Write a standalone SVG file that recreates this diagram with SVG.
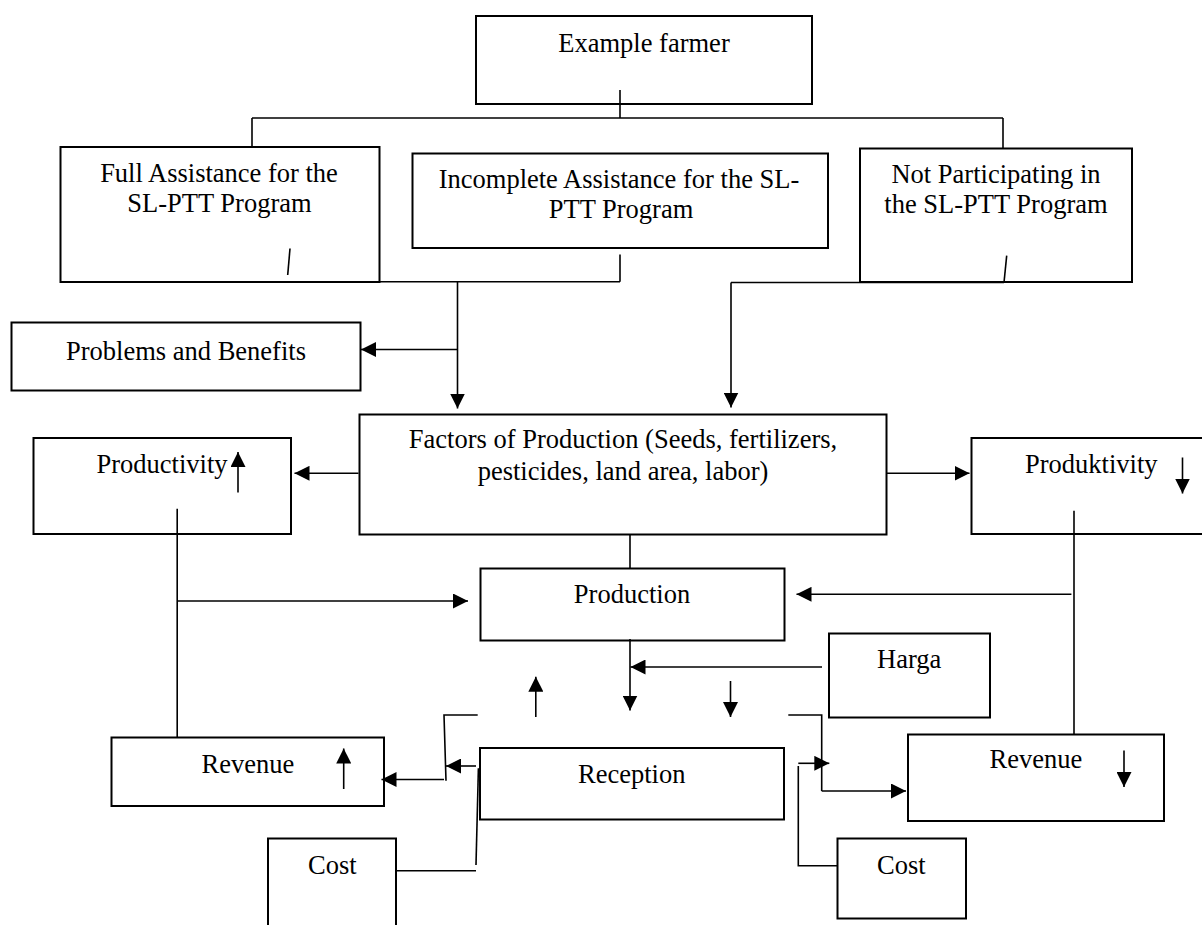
<svg xmlns="http://www.w3.org/2000/svg" width="1202" height="925" viewBox="0 0 1202 925">
<style>
.box{fill:none;stroke:#000;stroke-width:2}
.ln{fill:none;stroke:#000;stroke-width:1.6}
.ar{fill:none;stroke:#000;stroke-width:1.6;marker-end:url(#ah)}
text{font-family:"Liberation Serif","Times New Roman",serif;font-size:26.5px;fill:#000}
.c{text-anchor:middle}
</style>
<defs>
<marker id="ah" markerUnits="userSpaceOnUse" markerWidth="16" markerHeight="15" refX="15" refY="7.5" orient="auto">
<path d="M0,0 L15,7.5 L0,15 z" fill="#000"/>
</marker>
</defs>
<rect width="1202" height="925" fill="#fff"/>
<g id="example-farmer"><rect class="box" x="476" y="16" width="336" height="88"/><text class="c" x="644" y="52">Example farmer</text></g>
<g id="full-assistance"><rect class="box" x="60.5" y="147" width="319" height="135"/><text class="c" x="219" y="182">Full Assistance for the</text><text class="c" x="219.5" y="212">SL-PTT Program</text></g>
<g id="incomplete-assistance"><rect class="box" x="412.5" y="153.5" width="415.5" height="94.5"/><text class="c" x="619" y="188">Incomplete Assistance for the SL-</text><text class="c" x="621" y="218">PTT Program</text></g>
<g id="not-participating"><rect class="box" x="860" y="148.5" width="272" height="133.5"/><text class="c" x="996" y="183">Not Participating in</text><text class="c" x="996" y="213">the SL-PTT Program</text></g>
<g id="problems-benefits"><rect class="box" x="11.5" y="322.5" width="349" height="68"/><text class="c" x="186" y="359.5">Problems and Benefits</text></g>
<g id="factors"><rect class="box" x="359.5" y="414.5" width="527" height="120"/><text class="c" x="623" y="448">Factors of Production (Seeds, fertilizers,</text><text class="c" x="623" y="480">pesticides, land area, labor)</text></g>
<g id="productivity-up"><rect class="box" x="33.5" y="438" width="257.5" height="96"/><text x="96.5" y="473">Productivity</text></g>
<g id="produktivity-down"><rect class="box" x="971.5" y="438" width="240" height="96"/><text x="1025" y="473">Produktivity</text></g>
<g id="production"><rect class="box" x="480.5" y="568.5" width="304" height="72"/><text class="c" x="632" y="603">Production</text></g>
<g id="harga"><rect class="box" x="829" y="633.5" width="161" height="84"/><text x="877" y="668">Harga</text></g>
<g id="reception"><rect class="box" x="480" y="748" width="304" height="71.5"/><text x="578" y="783">Reception</text></g>
<g id="revenue-left"><rect class="box" x="111.5" y="737.5" width="272.5" height="68.5"/><text x="201.5" y="773">Revenue</text></g>
<g id="revenue-right"><rect class="box" x="908" y="734.5" width="256" height="86.5"/><text x="989.5" y="768">Revenue</text></g>
<g id="cost-left"><path class="box" d="M268,930 V838.5 H396 V930"/><text x="308" y="874">Cost</text></g>
<g id="cost-right"><rect class="box" x="837.5" y="838.5" width="128.5" height="80"/><text x="877" y="874">Cost</text></g>
<g id="connectors">
<path class="ln" d="M620,90 V118"/>
<path class="ln" d="M252,118 H1003"/>
<path class="ln" d="M252,118 V147"/>
<path class="ln" d="M1003,118 V148.5"/>
<path class="ln" d="M290,248.5 L287.7,275"/>
<path class="ln" d="M252,281.7 H620"/>
<path class="ln" d="M620,254.5 V281.7"/>
<path class="ar" d="M457.5,282 V408.5"/>
<path class="ar" d="M457.5,349.5 H361"/>
<path class="ln" d="M1006.7,255.7 L1004,282.5"/>
<path class="ln" d="M731,282.5 H1004"/>
<path class="ar" d="M731,282.5 V407.5"/>
<path class="ar" d="M358.5,473.3 H294.5"/>
<path class="ar" d="M238,492.5 V452"/>
<path class="ar" d="M887,473.3 H969.5"/>
<path class="ar" d="M1182.5,457.5 V493.5"/>
<path class="ln" d="M177.2,508.7 V737"/>
<path class="ar" d="M177.2,601 H468"/>
<path class="ln" d="M1074,510.7 V734.5"/>
<path class="ar" d="M1071.4,594.3 H796.5"/>
<path class="ln" d="M630,534.5 V568.5"/>
<path class="ar" d="M630,639 V710.5"/>
<path class="ar" d="M822,667 H630.5"/>
<path class="ar" d="M730.5,681 V717"/>
<path class="ar" d="M535.8,717 V676.7"/>
<path class="ar" d="M343.7,789 V748.5"/>
<path class="ar" d="M1124,750.5 V787"/>
<path class="ln" d="M477.7,715 H444 L446,780.7"/>
<path class="ar" d="M444,779.5 H381.5"/>
<path class="ar" d="M476,766 H446"/>
<path class="ln" d="M478.4,768.3 L476,865"/>
<path class="ln" d="M396,870.7 H476"/>
<path class="ln" d="M788.3,715 H821.7 V791"/>
<path class="ar" d="M821.7,791 H906"/>
<path class="ar" d="M798.3,763.3 H829.3"/>
<path class="ln" d="M798.3,766 V865.7 H837.5"/>
</g>
</svg>
